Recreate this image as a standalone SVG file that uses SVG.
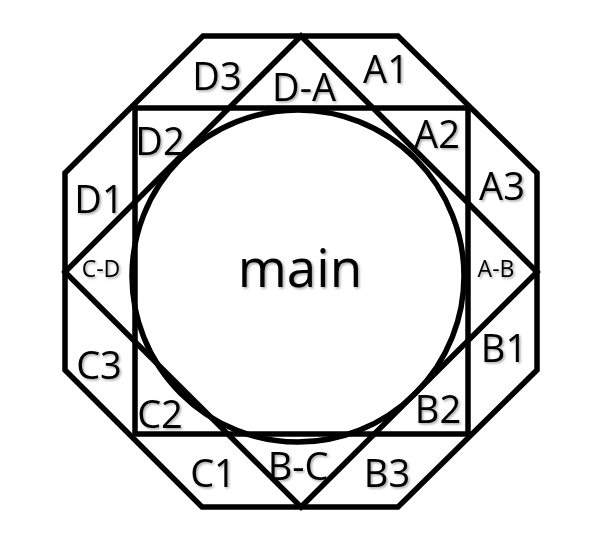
<svg xmlns="http://www.w3.org/2000/svg" width="600" height="557" viewBox="0 0 600 557">
<defs>
<style>
.ln{fill:none;stroke:#000;stroke-width:5.5;stroke-linejoin:miter}
.t{font-family:"Open Sans","Liberation Sans",sans-serif;fill:#000;text-anchor:middle;filter:url(#sh)}
.l{font-size:38px}
.s{font-size:23px}
.m{font-size:53px}
</style>
<filter id="sh" x="-20%" y="-20%" width="140%" height="140%">
<feDropShadow dx="1.5" dy="1.5" stdDeviation="0.8" flood-color="#000" flood-opacity="0.35"/>
</filter>
</defs>
<rect width="600" height="557" fill="#fff"/>
<g id="connectors">
<polygon id="octagon" class="ln" points="203,36 398,36 537,173 537,370 398,507 202,507 65,370 65,173"/>
<rect id="square" class="ln" x="135" y="108" width="333" height="326"/>
<polygon id="diamond" class="ln" points="301,36 537,272 301,507 65,272"/>
<circle id="circle" class="ln" cx="298" cy="276" r="166"/>
</g>
<g id="main"><text class="t m" x="300" y="287">main</text></g>
<g id="D3"><text class="t l" x="217" y="90">D3</text></g>
<g id="A1"><text class="t l" x="386" y="83">A1</text></g>
<g id="DA"><text class="t l" x="304" y="101">D-A</text></g>
<g id="D2"><text class="t l" x="160" y="155">D2</text></g>
<g id="A2"><text class="t l" x="437" y="148">A2</text></g>
<g id="A3"><text class="t l" x="502" y="200">A3</text></g>
<g id="D1"><text class="t l" x="99" y="213">D1</text></g>
<g id="CD"><text class="t s" x="101" y="277">C-D</text></g>
<g id="AB"><text class="t s" x="496" y="277">A-B</text></g>
<g id="C3"><text class="t l" x="99" y="379">C3</text></g>
<g id="B1"><text class="t l" x="504" y="362">B1</text></g>
<g id="C2"><text class="t l" x="160" y="428">C2</text></g>
<g id="B2"><text class="t l" x="438" y="423">B2</text></g>
<g id="C1"><text class="t l" x="213" y="487">C1</text></g>
<g id="BC"><text class="t l" x="298" y="480">B-C</text></g>
<g id="B3"><text class="t l" x="387" y="487">B3</text></g>
</svg>
